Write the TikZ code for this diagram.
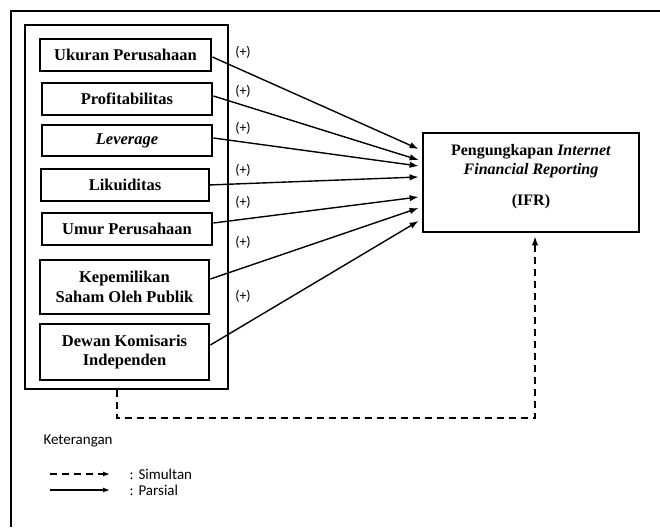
\documentclass[tikz,border=0pt]{standalone}
\usepackage{fontspec}
\setmainfont{Liberation Serif}
\newfontfamily\legfont{Carlito}
\usetikzlibrary{arrows.meta}
\begin{document}
\begin{tikzpicture}[x=1pt,y=-1pt,
  varbox/.style={draw, line width=2.8pt, inner sep=0pt, align=center,
    font=\fontsize{16.5}{19.5}\selectfont\bfseries},
  groupbox/.style={draw, line width=1.8pt, inner sep=0pt, minimum width=203pt, minimum height=364pt},
  arr/.style={-{Latex[length=9pt,width=6.5pt]}, line width=1.4pt},
  dasharr/.style={-{Latex[length=9pt,width=6.5pt]}, line width=1.5pt, dash pattern=on 7pt off 5pt},
  plus/.style={font=\legfont\fontsize{14}{16}\selectfont},
  legtext/.style={font=\legfont\fontsize{15}{17}\selectfont, anchor=west}]
\useasboundingbox (0,0) rectangle (660,527);
\fill[white] (0,0) rectangle (660,527);
\draw[line width=1.8pt] (11,527) |- (660,11);

\node[groupbox] (grp) at (126.5,207) {};

\node[varbox, minimum width=171pt, minimum height=32pt] (uk) at (125.5,55) {Ukuran Perusahaan};
\node[varbox, minimum width=170pt, minimum height=32pt] (pr) at (127,99) {Profitabilitas};
\node[varbox, minimum width=170pt, minimum height=31pt] (lv) at (127,140.5) {\itshape Leverage};
\node[varbox, minimum width=168pt, minimum height=32pt] (lk) at (125,185) {Likuiditas};
\node[varbox, minimum width=170pt, minimum height=32pt] (um) at (127,229) {Umur Perusahaan};
\node[varbox, minimum width=169pt, minimum height=54pt] (kp) at (124.5,287) {Kepemilikan\\Saham Oleh Publik};
\node[varbox, minimum width=169pt, minimum height=56pt] (dk) at (124.5,352) {Dewan Komisaris\\Independen};

\node[varbox, minimum width=216pt, minimum height=99pt] (ifr) at (531,182.5) {};
\node[align=center, inner sep=0pt, font=\fontsize{16}{19}\selectfont\bfseries] (ifrtxt) at (531,177)
  {Pengungkapan \textit{Internet}\\\textit{Financial Reporting}\\[12pt](IFR)};

\draw[arr] ([yshift=-2pt]uk.east) -- ([xshift=-3pt,yshift=33.5pt]ifr.west);
\draw[arr] ([yshift=3pt]pr.east) -- ([xshift=-3pt,yshift=22.5pt]ifr.west);
\draw[arr] ([yshift=2.5pt]lv.east) -- ([xshift=-3pt,yshift=16.5pt]ifr.west);
\draw[arr] ([xshift=-2pt]lk.east) -- ([xshift=-3pt,yshift=5.5pt]ifr.west);
\draw[arr] ([yshift=6pt]um.east) -- ([xshift=-3pt,yshift=-14.5pt]ifr.west);
\draw[arr] ([yshift=8pt]kp.east) -- ([xshift=-3pt,yshift=-25.5pt]ifr.west);
\draw[arr] ([yshift=7pt]dk.east) -- ([xshift=-3pt,yshift=-38.5pt]ifr.west);

\node[plus] (p1) at (243,52) {(+)};
\node[plus] (p2) at (243,91) {(+)};
\node[plus] (p3) at (243,128) {(+)};
\node[plus] (p4) at (243,170) {(+)};
\node[plus] (p5) at (243,202) {(+)};
\node[plus] (p6) at (243,242) {(+)};
\node[plus] (p7) at (243,296) {(+)};

\coordinate (d1) at (117,418);
\draw[dasharr, shorten >=3pt] (grp.south -| d1) -- (d1) -| ([xshift=4pt]ifr.south);

\node[legtext] (ket) at (40,441) {Keterangan};
\coordinate (l1a) at (50,474);
\coordinate (l1b) at (110,474);
\coordinate (l2a) at (50,490);
\coordinate (l2b) at (110,490);
\draw[-{Latex[length=7pt,width=5pt]}, line width=1.3pt, dash pattern=on 7pt off 5pt] (l1a) -- (l1b);
\draw[-{Latex[length=7pt,width=5pt]}, line width=1.3pt] (l2a) -- (l2b);
\node[legtext] (sim) at (126,474) {:\,\,Simultan};
\node[legtext] (par) at (126,490) {:\,\,Parsial};
\end{tikzpicture}
\end{document}
